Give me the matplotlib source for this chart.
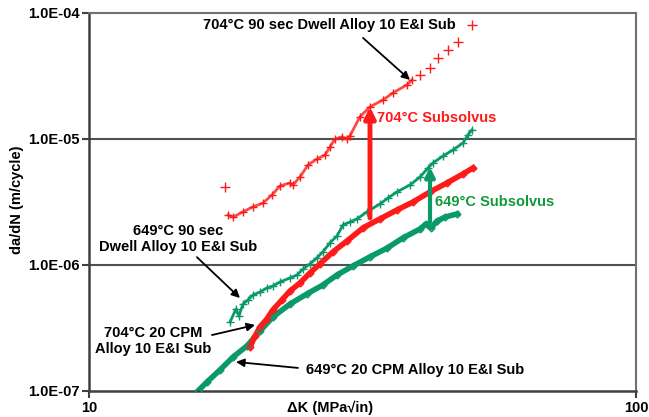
import matplotlib.pyplot as plt

plt.rcParams['font.family'] = ['Liberation Sans', 'DejaVu Sans']
plt.rcParams['font.weight'] = 'bold'

RED = '#ff1a1a'
GREEN = '#0a9a6a'
GREEN_TXT = '#12993a'
FS = 10.5

# 704C 90 sec dwell (red plus)
dk_704_dwell = [17.96, 18.34, 19.12, 19.94, 20.80, 21.61, 22.35, 23.31, 23.6, 24.31,
                25.14, 26.11, 27.01, 27.58, 28.17, 29.01, 29.63, 30.0, 31.29, 32.64,
                34.47, 35.95, 38.14, 38.95]
da_704_dwell = [2.49e-6, 2.40e-6, 2.64e-6, 2.89e-6, 3.10e-6, 3.60e-6, 4.24e-6, 4.48e-6, 4.32e-6, 4.99e-6,
                6.22e-6, 6.94e-6, 7.46e-6, 8.64e-6, 1.0e-5, 1.04e-5, 1.0e-5, 1.06e-5, 1.50e-5, 1.80e-5,
                2.04e-5, 2.32e-5, 2.69e-5, 2.94e-5]
# sparse points of the same test
dk_704_dwell_tail = [17.73, 40.29, 42.02, 43.46, 45.33, 47.28, 50.14]
da_704_dwell_tail = [4.16e-6, 3.22e-5, 3.66e-5, 4.39e-5, 5.08e-5, 5.89e-5, 8.03e-5]

# 649C 90 sec dwell (green plus)
dk_649_dwell = [18.11, 18.57, 18.80, 19.12, 19.53, 19.94, 20.54, 21.15, 21.69, 22.35,
                23.31, 24.01, 24.62, 25.35, 26.11, 26.77, 27.58, 28.41, 29.13, 30.0,
                30.90, 32.23, 34.04, 35.21, 36.56, 38.63, 40.29, 41.67, 42.56, 44.39,
                46.28, 48.28, 49.31, 50.14]
da_649_dwell = [3.53e-7, 4.48e-7, 3.94e-7, 4.90e-7, 5.28e-7, 5.78e-7, 6.10e-7, 6.57e-7, 6.81e-7, 7.33e-7,
                7.89e-7, 8.33e-7, 9.29e-7, 1.02e-6, 1.14e-6, 1.27e-6, 1.50e-6, 1.70e-6, 2.08e-6, 2.19e-6,
                2.32e-6, 2.64e-6, 3.05e-6, 3.40e-6, 3.80e-6, 4.32e-6, 4.99e-6, 5.89e-6, 6.45e-6, 7.33e-6,
                8.18e-6, 9.29e-6, 1.08e-5, 1.18e-5]

# 704C 20 CPM (red diamonds)
dk_704_cpm = [19.70, 20.12, 20.54, 21.15, 21.69, 22.53, 23.31, 24.31, 25.35, 26.44,
              27.93, 29.63, 31.70, 34.04, 36.56, 39.12, 42.02, 45.13, 48.28, 50.35]
da_704_cpm = [2.24e-7, 2.73e-7, 3.22e-7, 3.73e-7, 4.40e-7, 5.28e-7, 6.22e-7, 7.20e-7, 8.65e-7, 1.02e-6,
              1.27e-6, 1.55e-6, 1.97e-6, 2.32e-6, 2.73e-6, 3.16e-6, 3.80e-6, 4.48e-6, 5.28e-6, 5.89e-6]

# 649C 20 CPM (green diamonds)
dk_649_cpm = [15.82, 16.44, 17.36, 18.34, 19.45, 20.54, 21.69, 23.31, 25.03, 26.77,
              28.41, 30.38, 32.64, 35.06, 37.50, 40.29, 41.32, 42.20, 43.28, 44.75, 47.08]
da_649_cpm = [1.0e-7, 1.18e-7, 1.47e-7, 1.86e-7, 2.28e-7, 2.99e-7, 3.87e-7, 4.90e-7, 5.89e-7, 6.94e-7,
              8.33e-7, 9.82e-7, 1.16e-6, 1.36e-6, 1.64e-6, 1.93e-6, 2.12e-6, 1.97e-6, 2.23e-6, 2.40e-6, 2.54e-6]

y_ticks = [1e-7, 1e-6, 1e-5, 1e-4]
y_labels = ['1.0E-07', '1.0E-06', '1.0E-05', '1.0E-04']

fig = plt.figure(figsize=(6.49, 4.17), dpi=100)
ax = fig.add_axes([0.1371, 0.0624, 0.8428, 0.9065])
ax.set_xscale('log')
ax.set_yscale('log')
ax.set_xlim(10, 100)
ax.set_ylim(1e-7, 1e-4)

for yv in [1e-6, 1e-5]:
    ax.axhline(yv, color='#505050', lw=1.5, zorder=1)

# dense bands
ax.plot(dk_649_cpm, da_649_cpm, color=GREEN, lw=4, zorder=2)
ax.plot(dk_649_cpm, da_649_cpm, ls='none', marker='D', ms=3.5, mfc='none', mec=GREEN, mew=1, zorder=3)
ax.plot(dk_704_cpm, da_704_cpm, color=RED, lw=4, zorder=2)
ax.plot(dk_704_cpm, da_704_cpm, ls='none', marker='D', ms=3.5, mfc='none', mec=RED, mew=1, zorder=3)
ax.plot(dk_649_dwell, da_649_dwell, color=GREEN, lw=2, zorder=2)
ax.plot(dk_649_dwell, da_649_dwell, ls='none', marker='+', ms=6, mec=GREEN, mew=1, zorder=3)
ax.plot(dk_704_dwell, da_704_dwell, color=RED, lw=2, zorder=2, alpha=0.8)
ax.plot(dk_704_dwell, da_704_dwell, ls='none', marker='+', ms=6, mec=RED, mew=1, zorder=3)
ax.plot(dk_704_dwell_tail, da_704_dwell_tail, ls='none', marker='+', ms=7, mec=RED, mew=1, zorder=3)

# spines and ticks
for s in ['left', 'bottom']:
    ax.spines[s].set_color('#404040')
    ax.spines[s].set_linewidth(1.8)
for s in ['top', 'right']:
    ax.spines[s].set_color('#707070')
    ax.spines[s].set_linewidth(1.5)
ax.set_yticks(y_ticks)
ax.set_yticklabels(y_labels)
ax.set_xticks([10, 100])
ax.set_xticklabels(['10', '100'])
ax.minorticks_off()
ax.tick_params(axis='both', direction='out', length=5, width=1.5, color='#404040',
               labelsize=FS, pad=2)
for lab in ax.get_xticklabels() + ax.get_yticklabels():
    lab.set_fontweight('bold')

fig.text(17 / 649, 1 - 200 / 417, 'da/dN (m/cycle)', rotation=90, ha='center', va='center',
         fontsize=FS, fontweight='bold')
fig.text(330 / 649, 1 - 408 / 417, 'ΔK (MPa√in)', ha='center', va='center',
         fontsize=FS, fontweight='bold')

black_arrow = dict(arrowstyle='-|>', color='black', lw=1.3, mutation_scale=12, shrinkA=0, shrinkB=0)

ax.text(0.4388, 0.968, '704°C 90 sec Dwell Alloy 10 E&I Sub', transform=ax.transAxes,
        ha='center', va='center', fontsize=FS, fontweight='bold')
ax.annotate('', xy=(38.63, 2.94e-5), xytext=(0.501, 0.934), textcoords='axes fraction',
            arrowprops=black_arrow)

ax.annotate('', xy=(18.88, 5.47e-7), xytext=(0.1974, 0.354), textcoords='axes fraction',
            arrowprops=black_arrow)
ax.text(0.1627, 0.402, '649°C 90 sec\nDwell Alloy 10 E&I Sub', transform=ax.transAxes,
        ha='center', va='center', fontsize=FS, fontweight='bold', linespacing=1.25)

ax.annotate('', xy=(20.12, 3.34e-7), xytext=(0.2249, 0.148), textcoords='axes fraction',
            arrowprops=black_arrow)
ax.text(0.117, 0.132, '704°C 20 CPM\nAlloy 10 E&I Sub', transform=ax.transAxes,
        ha='center', va='center', fontsize=FS, fontweight='bold', linespacing=1.25)

ax.annotate('', xy=(18.57, 1.70e-7), xytext=(0.382, 0.061), textcoords='axes fraction',
            arrowprops=black_arrow)
ax.text(0.3967, 0.0556, '649°C 20 CPM Alloy 10 E&I Sub', transform=ax.transAxes,
        ha='left', va='center', fontsize=FS, fontweight='bold')

# subsolvus arrows
ax.annotate('', xy=(32.64, 1.80e-5), xytext=(32.64, 2.36e-6),
            arrowprops=dict(arrowstyle='-|>', color=RED, lw=3.5, mutation_scale=16,
                            shrinkA=0, shrinkB=0))
ax.text(0.5265, 0.722, '704°C Subsolvus', transform=ax.transAxes, ha='left', va='center',
        color=RED, fontsize=FS, fontweight='bold')
ax.annotate('', xy=(42.02, 6.0e-6), xytext=(42.02, 2.19e-6),
            arrowprops=dict(arrowstyle='-|>', color=GREEN, lw=3, mutation_scale=14,
                            shrinkA=0, shrinkB=0))
ax.text(0.6325, 0.5, '649°C Subsolvus', transform=ax.transAxes, ha='left', va='center',
        color=GREEN_TXT, fontsize=FS, fontweight='bold')

fig.savefig('out.png', dpi=100)
